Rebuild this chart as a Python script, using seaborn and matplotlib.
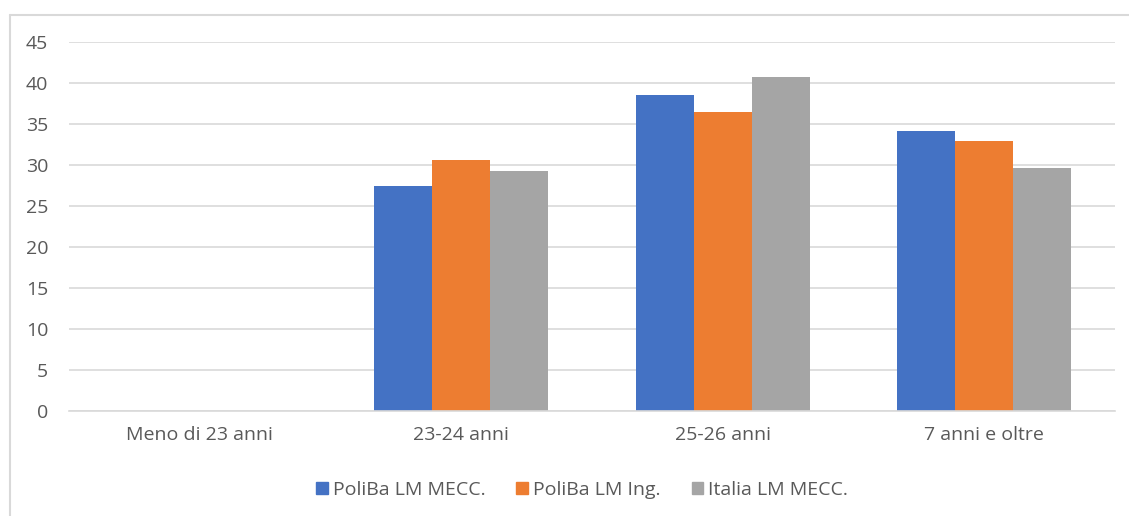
import pandas as pd
import matplotlib.pyplot as plt
from matplotlib.lines import Line2D
import seaborn as sns

# values
categories = ['Meno di 23 anni', '23-24 anni', '25-26 anni', '7 anni e oltre']
series_names = ['PoliBa LM MECC.', 'PoliBa LM Ing.', 'Italia LM MECC.']
poliba_mecc = [0, 27.4, 38.5, 34.2]
poliba_ing = [0, 30.6, 36.5, 32.9]
italia_mecc = [0, 29.3, 40.7, 29.6]
y_ticks = [0, 5, 10, 15, 20, 25, 30, 35, 40, 45]

colors = ['#4472C4', '#ED7D31', '#A5A5A5']
text_color = '#595959'
grid_color = '#D9D9D9'

df = pd.DataFrame({
    'categoria': categories * 3,
    'serie': [s for s in series_names for _ in categories],
    'valore': poliba_mecc + poliba_ing + italia_mecc,
})

sns.set_style('white')
plt.rcParams['font.family'] = ['Open Sans', 'DejaVu Sans']

fig = plt.figure(figsize=(11.29, 5.16), dpi=100)
ax = fig.add_axes([69 / 1129, 1 - 411 / 516, (1115 - 69) / 1129, (411 - 42) / 516])

sns.barplot(data=df, x='categoria', y='valore', hue='serie', order=categories,
            hue_order=series_names, palette=colors, width=0.667, gap=0,
            saturation=1, ax=ax, legend=False, linewidth=0)

ax.set_ylim(0, 45)
ax.set_xlim(-0.5, 3.5)
ax.set_yticks(y_ticks)
ax.set_xlabel('')
ax.set_ylabel('')
ax.yaxis.grid(True, color=grid_color, linewidth=1.2)
ax.set_axisbelow(True)
for s in ax.spines.values():
    s.set_visible(False)
ax.spines['bottom'].set_visible(True)
ax.spines['bottom'].set_color(grid_color)
ax.spines['bottom'].set_linewidth(1.2)
ax.tick_params(axis='both', length=0, labelsize=14, colors=text_color)
ax.tick_params(axis='y', pad=15)
ax.tick_params(axis='x', pad=11)

handles = [plt.Rectangle((0, 0), 1, 1, color=c) for c in colors]
leg = fig.legend(handles, series_names, loc='center', ncol=3,
                 bbox_to_anchor=(582 / 1129, 1 - 490 / 516), frameon=False,
                 handlelength=0.6, handleheight=0.6, handletextpad=0.25,
                 columnspacing=1.6, fontsize=14)
for t in leg.get_texts():
    t.set_color(text_color)

# outer chart frame (cropped at right and bottom)
fig.add_artist(Line2D([10 / 1129, 1], [1 - 15 / 516, 1 - 15 / 516], color=grid_color, lw=1.5))
fig.add_artist(Line2D([10 / 1129, 10 / 1129], [0, 1 - 15 / 516], color=grid_color, lw=1.5))

fig.savefig('out.png', dpi=100, facecolor='white')
